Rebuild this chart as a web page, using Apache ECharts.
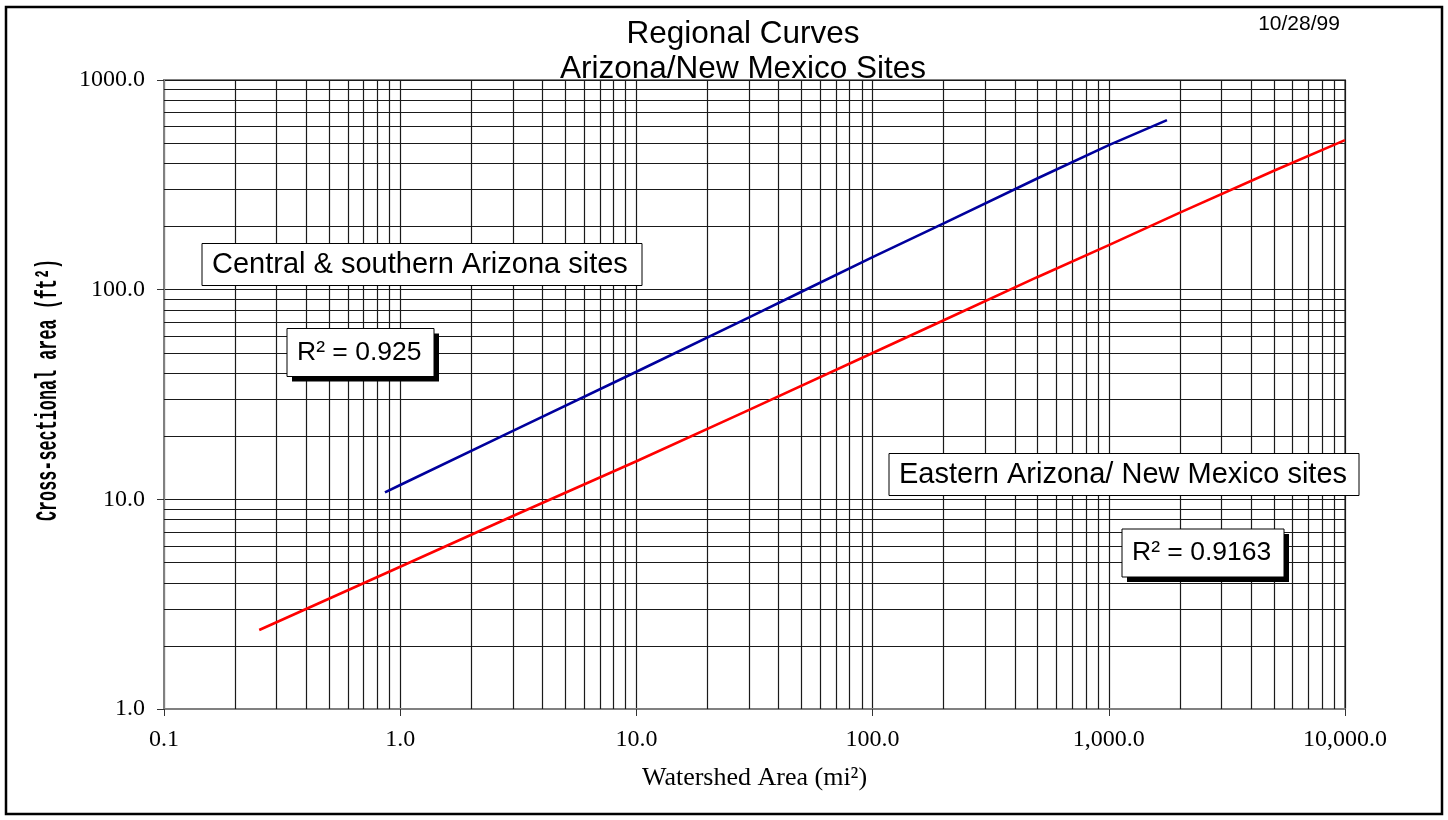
<!DOCTYPE html>
<html>
<head>
<meta charset="utf-8">
<title>Regional Curves</title>
<script src="https://cdn.jsdelivr.net/npm/echarts@6/dist/echarts.min.js"></script>
<style>
  html, body { margin: 0; padding: 0; background: #fff; }
  #chart { width: 1448px; height: 820px; }
</style>
</head>
<body>
<div id="chart"></div>
<script>
// Central & southern Arizona regional curve (watershed area mi², cross-sectional area ft²)
const centralArea = [0.862, 1, 3, 10, 30, 50, 100, 200, 500, 1000, 1763];
const centralXsec = [10.8, 11.7, 21.2, 40.6, 73.8, 97.7, 143, 207, 340, 489, 644];

// Eastern Arizona / New Mexico regional curve
const easternArea = [0.253, 1, 3, 10, 30, 100, 200, 500, 1000, 2000, 5000, 10000];
const easternXsec = [2.38, 4.77, 8.33, 15.2, 26.7, 49.9, 71.5, 115, 163, 233, 369, 517];

// Tick labels, one per decade
const xTickLabels = ['0.1', '1.0', '10.0', '100.0', '1,000.0', '10,000.0'];
const yTickLabels = ['1.0', '10.0', '100.0', '1000.0'];

// Log-paper minor grid: 2..9 within each decade
const minorSteps = [2, 3, 4, 5, 6, 7, 8, 9];
const xDecades = [0.1, 1, 10, 100, 1000];
const yDecades = [1, 10, 100];

const zip = (a, b) => a.map((v, i) => [v, b[i]]);
const xMinor = [], yMinor = [];
xDecades.forEach(d => minorSteps.forEach(m => xMinor.push(+(d * m).toPrecision(6))));
yDecades.forEach(d => minorSteps.forEach(m => yMinor.push(+(d * m).toPrecision(6))));

const chart = echarts.init(document.getElementById('chart'), null, { renderer: 'canvas' });

const gridLineColor = '#1a1a1a';
const serif = '"Liberation Serif", "Times New Roman", serif';
const sans = '"Liberation Sans", Arial, sans-serif';
const mono = '"Liberation Mono", "Courier New", monospace';

// Framed text label; a separate black offset block gives the drop shadow
function labelBox(x, y, w, h, text, size, shadow) {
  const items = [];
  if (shadow) {
    items.push({ type: 'rect', z: 99, silent: true,
      shape: { x: x + 5, y: y + 5, width: w, height: h },
      style: { fill: '#000', stroke: 'none' } });
  }
  items.push({ type: 'rect', z: 100, silent: true,
    shape: { x: x, y: y, width: w, height: h },
    style: { fill: '#fff', stroke: '#000', lineWidth: 1 } });
  items.push({ type: 'text', z: 101, silent: true, x: x + 10, y: y + h / 2,
    style: { text: text, font: size + 'px ' + sans, fill: '#000',
             textAlign: 'left', textVerticalAlign: 'middle' } });
  return items;
}

const option = {
  animation: false,
  backgroundColor: '#fff',
  title: [
    {
      text: 'Regional Curves\nArizona/New Mexico Sites',
      left: 738, top: 12, textAlign: 'center',
      textStyle: { fontFamily: sans, fontSize: 31.5, fontWeight: 'normal', color: '#000', lineHeight: 35 }
    },
    {
      text: '10/28/99',
      left: 1294, top: 9, textAlign: 'center',
      textStyle: { fontFamily: sans, fontSize: 21, fontWeight: 'normal', color: '#000' }
    }
  ],
  grid: {
    left: 164, top: 80, width: 1181, height: 629,
    show: true, borderColor: '#808080', borderWidth: 2, backgroundColor: '#fff'
  },
  xAxis: {
    type: 'log', logBase: 10, min: 0.1, max: 10000, splitNumber: 5,
    name: 'Watershed Area (mi²)', nameLocation: 'middle', nameGap: 56,
    nameTextStyle: { fontFamily: serif, fontSize: 26, color: '#000' },
    axisLine: { show: true, lineStyle: { color: '#808080', width: 2 } },
    axisTick: { show: true, length: 7, lineStyle: { color: '#333', width: 1 } },
    axisLabel: {
      margin: 19, fontFamily: serif, fontSize: 24, color: '#000',
      formatter: v => xTickLabels[Math.round(Math.log10(v)) + 1]
    },
    splitLine: { show: true, lineStyle: { color: gridLineColor, width: 1.2 } },
    minorTick: { show: false }, minorSplitLine: { show: false }
  },
  yAxis: {
    type: 'log', logBase: 10, min: 1, max: 1000, splitNumber: 3,
    axisLine: { show: true, lineStyle: { color: '#808080', width: 2 } },
    axisTick: { show: true, length: 7, lineStyle: { color: '#333', width: 1 } },
    axisLabel: {
      margin: 19, fontFamily: serif, fontSize: 24, color: '#000',
      formatter: v => yTickLabels[Math.round(Math.log10(v))]
    },
    splitLine: { show: true, lineStyle: { color: gridLineColor, width: 1.2 } },
    minorTick: { show: false }, minorSplitLine: { show: false }
  },
  series: [
    {
      // minor log-paper rules, placed through the axis scales
      name: 'grid', type: 'line', data: [], z: 1, silent: true,
      markLine: {
        silent: true, animation: false, symbol: ['none', 'none'],
        label: { show: false },
        lineStyle: { color: gridLineColor, width: 1.2, type: 'solid' },
        emphasis: { disabled: true },
        data: xMinor.map(v => ({ xAxis: v })).concat(yMinor.map(v => ({ yAxis: v })))
      }
    },
    {
      name: 'Central & southern Arizona sites', type: 'line', z: 5,
      data: zip(centralArea, centralXsec), showSymbol: false, symbol: 'none',
      lineStyle: { color: '#00009c', width: 2.6 }, itemStyle: { color: '#00009c' }
    },
    {
      name: 'Eastern Arizona/ New Mexico sites', type: 'line', z: 5,
      data: zip(easternArea, easternXsec), showSymbol: false, symbol: 'none',
      lineStyle: { color: '#ff0000', width: 2.6 }, itemStyle: { color: '#ff0000' }
    }
  ],
  graphic: [
    { type: 'rect', z: 0, silent: true, shape: { x: 6, y: 7, width: 1436, height: 807 },
      style: { fill: 'none', stroke: '#000', lineWidth: 2.5 } },
    // y-axis title in a condensed typewriter face
    { type: 'text', z: 100, silent: true, x: 48, y: 390, rotation: Math.PI / 2, scaleX: 0.56,
      style: { text: 'Cross-sectional area (ft²)', font: 'bold 30px ' + mono, fill: '#000',
               textAlign: 'center', textVerticalAlign: 'middle' } }
  ]
    .concat(labelBox(202, 243.5, 440, 42, 'Central & southern Arizona sites', 29, false))
    .concat(labelBox(287, 328.5, 147, 48, 'R² = 0.925', 26.5, true))
    .concat(labelBox(889, 453.5, 470, 42, 'Eastern Arizona/ New Mexico sites', 29, false))
    .concat(labelBox(1122, 529, 162, 48, 'R² = 0.9163', 26.5, true))
};

chart.setOption(option);
</script>
</body>
</html>
